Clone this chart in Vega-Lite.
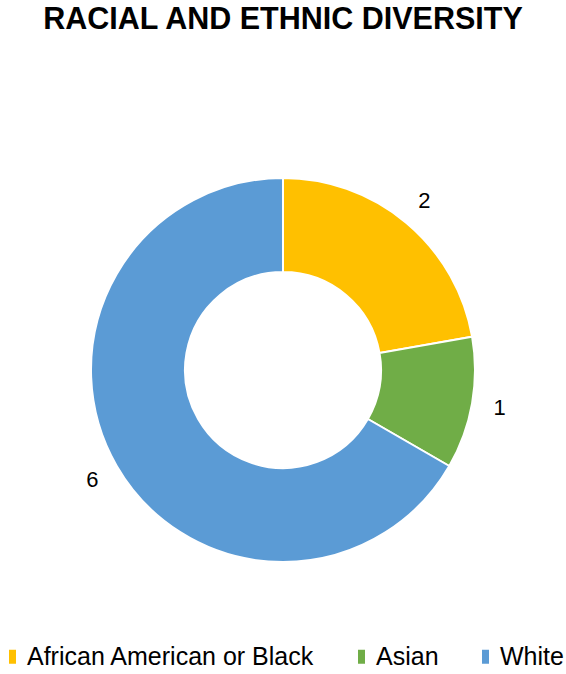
{
  "$schema": "https://vega.github.io/schema/vega-lite/v6.json",
  "autosize": {"type": "fit", "contains": "padding"},
  "width": 566,
  "height": 674,
  "padding": {"left": 0, "right": 0, "top": 4, "bottom": 4},
  "background": "white",
  "title": {
    "text": "RACIAL AND ETHNIC DIVERSITY",
    "font": "Liberation Sans",
    "fontSize": 30.5,
    "fontWeight": "bold",
    "color": "black",
    "anchor": "middle",
    "offset": 121
  },
  "data": {
    "values": [
      {"group": "African American or Black", "count": 2},
      {"group": "Asian", "count": 1},
      {"group": "White", "count": 6}
    ]
  },
  "encoding": {
    "theta": {"field": "count", "type": "quantitative", "stack": true},
    "order": {"field": "group", "type": "nominal", "sort": "ascending"}
  },
  "layer": [
    {
      "mark": {"type": "arc", "outerRadius": 192, "innerRadius": 98, "stroke": "white", "strokeWidth": 2},
      "encoding": {
        "color": {
          "field": "group",
          "type": "nominal",
          "scale": {
            "domain": ["African American or Black", "Asian", "White"],
            "range": ["#FFC000", "#70AD47", "#5B9BD5"]
          },
          "legend": {
            "title": null,
            "orient": "bottom",
            "direction": "horizontal",
            "symbolType": "M-0.5,-1H0.5V1H-0.5Z",
            "symbolSize": 196,
            "symbolStrokeWidth": 0,
            "labelFont": "Liberation Sans",
            "labelFontSize": 25,
            "labelColor": "black",
            "labelLimit": 0,
            "labelOffset": 2,
            "columnPadding": 34,
            "offset": 60
          }
        }
      }
    },
    {
      "mark": {"type": "text", "radius": 220, "font": "Liberation Sans", "fontSize": 22, "color": "black"},
      "encoding": {
        "text": {"field": "count", "type": "quantitative"},
        "detail": {"field": "group", "type": "nominal"}
      }
    }
  ],
  "config": {"view": {"stroke": null}}
}
